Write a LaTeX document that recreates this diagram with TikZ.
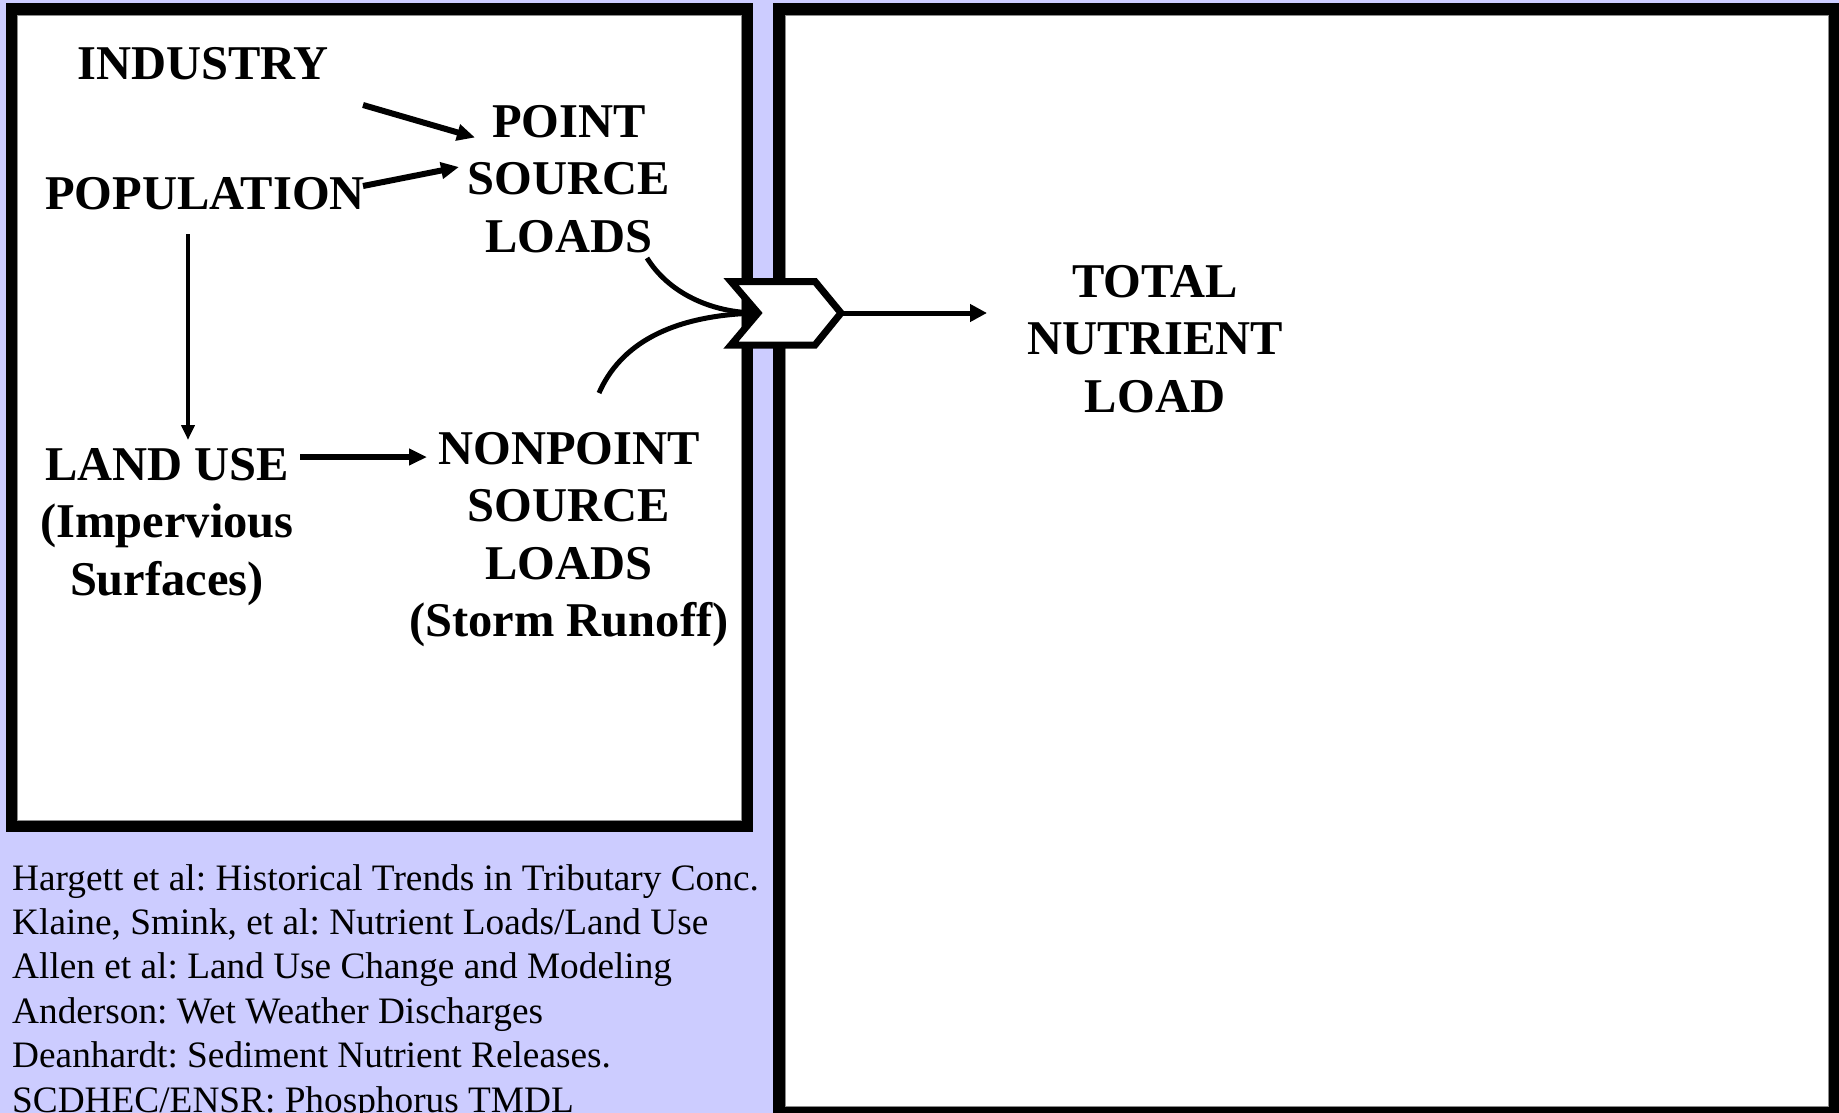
\documentclass[tikz,border=0pt]{standalone}
\usepackage{fontspec}
\setmainfont{Liberation Serif}
\usetikzlibrary{arrows.meta,calc}
\definecolor{lav}{HTML}{CCCCFF}
\begin{document}
\begin{tikzpicture}[x=1pt,y=-1pt,
  big/.style={font=\fontsize{48.5}{57.5}\selectfont\bfseries, inner sep=0pt, align=center, anchor=base},
  reftext/.style={font=\fontsize{37.3}{44.4}\selectfont\frenchspacing, inner sep=0pt, align=left, anchor=base west},
  boxline/.style={line width=12pt, draw=black, fill=white},
  innerline/.style={draw=black!45, line width=1pt},
  fatarrow/.style={line width=6pt, -{Triangle[length=18pt,width=16pt]}},
  thinarrow/.style={line width=4pt, -{Triangle[length=15pt,width=13pt]}},
  flowcurve/.style={line width=5pt},
  chevronstyle/.style={line width=7pt, draw=black, fill=white, miter limit=10},
  outarrow/.style={line width=5pt, -{Triangle[length=17pt,width=17pt]}}
]
\useasboundingbox (0,0) rectangle (1839,1113);
\clip (0,0) rectangle (1839,1113);
\fill[lav] (0,0) rectangle (1839,1113);

% frames
\draw[boxline] (11.5,9.5) rectangle (747,826);
\draw[innerline] (17.5,15.5) rectangle (741,820);
\draw[boxline] (779,9) rectangle (1835,1113);
\draw[innerline] (785.5,15.5) rectangle (1828.5,1106.5);

% text nodes (base anchor = baseline of the last line)
\node[big] (industry) at (203,80) {INDUSTRY};
\node[big] (point) at (569,252) {POINT\\SOURCE\\LOADS};
\node[big] (population) at (205,209) {POPULATION};
\node[big] (landuse) at (167,595) {LAND USE\\(Impervious\\Surfaces)};
\node[big] (nonpoint) at (569,636.5) {NONPOINT\\SOURCE\\LOADS\\(Storm Runoff)};
\node[big] (total) at (1155,412) {TOTAL\\NUTRIENT\\LOAD};
\node[reftext] (refs) at (12,1112) {Hargett et al: Historical Trends in Tributary Conc.\\
Klaine, Smink, et al: Nutrient Loads/Land Use\\
Allen et al: Land Use Change and Modeling\\
Anderson: Wet Weather Discharges\\
Deanhardt: Sediment Nutrient Releases.\\
SCDHEC/ENSR: Phosphorus TMDL};

% connectors
\coordinate (chevnotch) at (758,313);
\coordinate (chevtip) at (841,313);
\draw[fatarrow] ($(industry.base)+(160,25)$) -- ($(point.base)+(-94,-114.5)$);
\draw[fatarrow] ($(population.base)+(158,-23)$) -- ($(point.base)+(-110,-85)$);
\draw[thinarrow] ($(population.base)+(-17,25)$) -- ($(landuse.base)+(21,-155)$);
\draw[fatarrow] ($(landuse.base)+(133,-138)$) -- ($(nonpoint.base)+(-142,-179.5)$);
\draw[flowcurve] ($(point.base)+(78,6)$) .. controls (668,292) and (710,313) .. (chevnotch);
\draw[flowcurve] ($(nonpoint.base)+(30,-243.5)$) .. controls (620,345) and (670,315) .. (chevnotch);
\draw[chevronstyle] (731,281.5) -- (815,281.5) -- (chevtip) -- (815,345) -- (731,345) -- (chevnotch) -- cycle;
\draw[outarrow] (chevtip) -- ($(total.base)+(-168,-99)$);
\end{tikzpicture}
\end{document}
